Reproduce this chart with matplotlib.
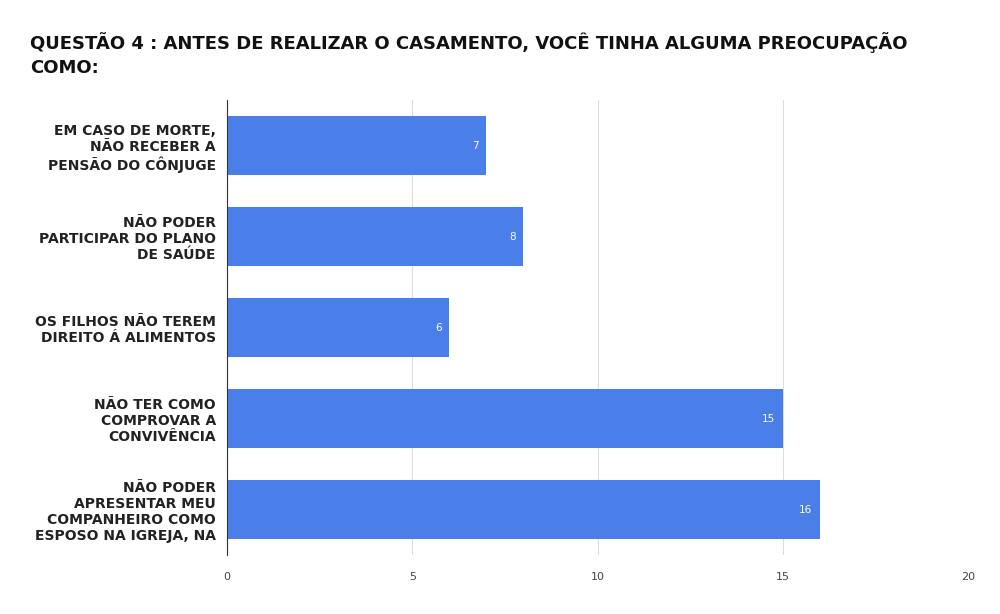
import matplotlib.pyplot as plt

categories = [
    "EM CASO DE MORTE,\nNÃO RECEBER A\nPENSÃO DO CÔNJUGE",
    "NÃO PODER\nPARTICIPAR DO PLANO\nDE SAÚDE",
    "OS FILHOS NÃO TEREM\nDIREITO Á ALIMENTOS",
    "NÃO TER COMO\nCOMPROVAR A\nCONVIVÊNCIA",
    "NÃO PODER\nAPRESENTAR MEU\nCOMPANHEIRO COMO\nESPOSO NA IGREJA, NA",
]
values = [7, 8, 6, 15, 16]
xticks = [0, 5, 10, 15, 20]

fig = plt.figure(figsize=(10, 6.14), dpi=100)
ax = fig.add_axes([0.227, 0.096, 0.741, 0.741])

pos = list(range(len(values)))
bars = ax.barh(pos, values, height=0.65, color="#4a7fe9", zorder=2)
ax.invert_yaxis()
ax.set_ylim(4.5, -0.5)
ax.set_xlim(0, 20)

ax.set_yticks(pos)
ax.set_yticklabels(categories, fontsize=10, fontweight="bold", color="#222222")
ax.set_xticks(xticks)
ax.set_xticklabels([str(t) for t in xticks], fontsize=8, color="#444444")
ax.tick_params(axis="both", length=0, pad=8)
ax.tick_params(axis="x", pad=12)

ax.grid(axis="x", color="#dddddd", linewidth=0.8, zorder=0)
for s in ["top", "right", "bottom"]:
    ax.spines[s].set_visible(False)
ax.spines["left"].set_color("#333333")
ax.spines["left"].set_zorder(3)

for b, v in zip(bars, values):
    ax.text(v - 0.2, b.get_y() + b.get_height() / 2, str(v), ha="right",
            va="center", color="white", fontsize=7.5, zorder=3)

fig.text(0.03, 0.875, "QUESTÃO 4 : ANTES DE REALIZAR O CASAMENTO, VOCÊ TINHA ALGUMA PREOCUPAÇÃO\nCOMO:",
         fontsize=13, fontweight="bold", color="#111111", va="bottom", linespacing=1.4)

fig.savefig("out.png", dpi=100, facecolor="white")
